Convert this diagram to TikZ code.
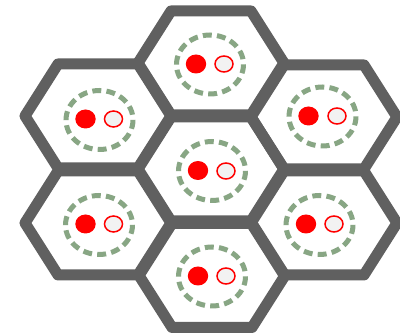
\documentclass[tikz,border=0pt]{standalone}
\definecolor{hexgray}{RGB}{96,96,96}
\definecolor{ringgreen}{RGB}{136,166,132}
\definecolor{dotred}{RGB}{255,0,0}
\definecolor{holefill}{RGB}{242,242,242}
\tikzset{
  hexcell/.style={draw=hexgray,line width=11pt,line join=round,fill=white},
  ring/.style={draw=ringgreen,line width=5pt,dash pattern=on 8.9pt off 5.24pt},
  fulldot/.style={fill=dotred,draw=none},
  opendot/.style={draw=dotred,line width=1.5pt,fill=holefill}
}
\begin{document}
\begin{tikzpicture}[x=1pt,y=-1pt]
\fill[white] (0,0) rectangle (400,336);
\useasboundingbox (0,0) rectangle (400,336);
% hexagon centres
\foreach \n/\cx/\cy in {top/211/63, mid/211/169, bot/212/275.5, ul/98/116, ll/98/223, ur/324/117, lr/324/223}{
  \coordinate (h\n) at (\cx,\cy);
  \fill[white] ({\cx+73},{\cy}) -- ({\cx+40},{\cy-52}) -- ({\cx-40},{\cy-52}) -- ({\cx-73},{\cy}) -- ({\cx-40},{\cy+52}) -- ({\cx+40},{\cy+52}) -- cycle;
}
\foreach \cx/\cy in {211/63, 211/169, 212/275.5, 98/116, 98/223, 324/117, 324/223}{
  \draw[hexcell,fill=none] ({\cx+73},{\cy}) -- ({\cx+40},{\cy-52}) -- ({\cx-40},{\cy-52}) -- ({\cx-73},{\cy}) -- ({\cx-40},{\cy+52}) -- ({\cx+40},{\cy+52}) -- cycle;
}
% rings and dots: ring centre, filled dot, open dot
\foreach \ex/\ey/\fx/\fy/\ox/\oy in {
  210/64.5/196/64/224/64,
  212/171/198/170.5/226/171,
  212/276.5/198/276/226/276,
  99.5/120/85.5/119/113.5/119,
  99/225/85.5/224/113.5/224,
  322.5/116.5/308.5/116/337/116,
  319.5/225/306/224/334/224}{
  \draw[ring] (\ex,\ey) ellipse [x radius=33.5, y radius=29.5];
  \fill[fulldot] (\fx,\fy) ellipse [x radius=10.2, y radius=9.5];
  \draw[opendot] (\ox,\oy) ellipse [x radius=9, y radius=8];
}
\end{tikzpicture}
\end{document}
